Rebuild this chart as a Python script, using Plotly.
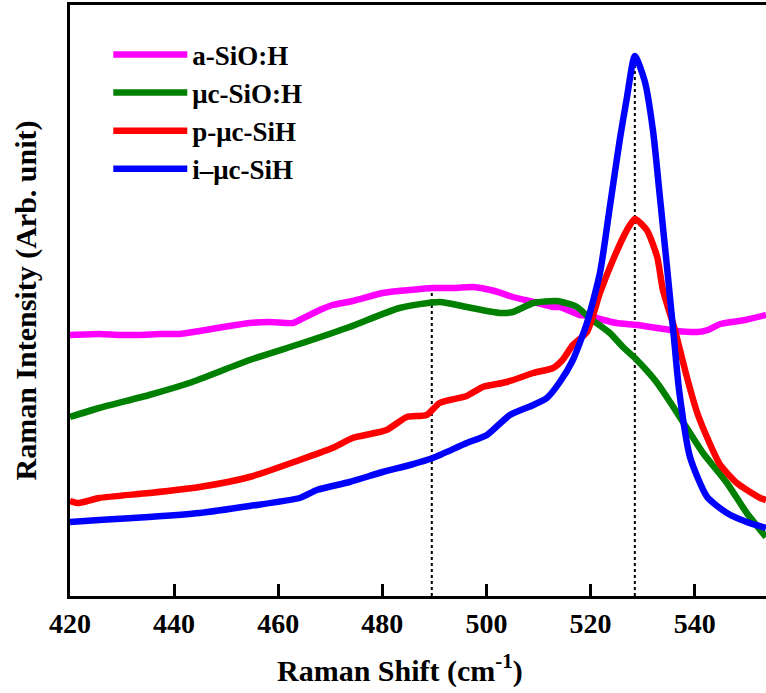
import plotly.graph_objects as go

# Raman shift (cm^-1) and intensities (arb. unit)
x_asioh = [420.0, 425.6, 429.5, 433.3, 437.2, 441.0, 444.9, 450.6, 454.5, 458.3, 462.8,
           464.1, 468.0, 470.4, 474.3, 480.1, 485.3, 489.7, 493.9, 497.4, 501.6, 505.1,
           509.0, 512.8, 514.1, 517.9, 519.8, 522.5, 525.0, 529.0, 532.8, 536.6, 540.5,
           542.5, 544.9, 549.7, 553.7]
y_asioh = [261, 262, 261, 261, 262, 262, 265, 270, 273, 274, 273,
           276, 286, 291, 295, 303, 306, 308, 308, 309, 305, 299,
           294, 289, 289, 281, 280, 276, 273, 271, 268, 265, 264,
           266, 272, 276, 281]

x_ucsioh = [420.0, 425.6, 435.2, 442.9, 454.5, 464.1, 473.7, 483.3, 491.0, 496.2, 502.6,
            505.1, 509.0, 513.5, 517.4, 519.8, 523.7, 526.2, 528.9, 532.8, 535.9, 539.1,
            541.6, 546.2, 550.0, 553.7]
y_ucsioh = [179, 188, 201, 213, 236, 252, 269, 288, 294, 289, 283,
            284, 293, 295, 289, 278, 263, 249, 236, 213, 189, 163,
            143, 113, 83, 59]

x_psih = [420.0, 421.7, 425.6, 435.2, 444.9, 454.5, 464.1, 470.4, 474.3, 480.8, 484.7,
          488.5, 491.0, 496.2, 499.3, 503.9, 509.0, 512.8, 514.6, 516.6, 519.3,
          521.8, 524.3, 527.0, 528.5, 530.8, 532.8, 533.9, 536.2, 538.5, 540.5, 542.6,
          544.8, 548.1, 552.6, 553.7]
y_psih = [95, 93, 98, 103, 109, 119, 136, 148, 158, 166, 179,
          181, 193, 200, 209, 214, 223, 228, 236, 251, 264,
          303, 336, 366, 377, 366, 339, 306, 266, 219, 183, 156,
          132, 113, 98, 96]

x_isih = [420.0, 425.6, 435.2, 444.9, 454.5, 464.1, 467.4, 473.7, 480.1, 485.3, 489.7,
          496.2, 500.1, 504.5, 509.0, 511.6, 514.1, 516.6, 519.3, 521.8,
          523.7, 525.6, 527.0, 528.5, 530.4, 532.0, 533.3, 534.7, 536.0, 537.0, 539.1,
          542.4, 546.2, 550.0, 553.7]
y_isih = [74, 76, 79, 83, 90, 98, 106, 114, 124, 131, 138,
          153, 161, 181, 191, 198, 214, 236, 273, 323,
          389, 456, 499, 540, 515, 465, 400, 328, 259, 206, 139,
          99, 83, 74, 68]

series_names = ["a-SiO:H", "\u03bcc-SiO:H", "p-\u03bcc-SiH", "i\u2013\u03bcc-SiH"]
series_colors = ["#FF00FF", "#008000", "#FF0000", "#0000FF"]

# Peak markers (dotted guide lines)
peak_x = [489.5, 528.5]
peak_top = [308, 540]

xticks = [420, 440, 460, 480, 500, 520, 540]

FONT = "Liberation Serif, Times New Roman, serif"

fig = go.Figure()

for px, pt in zip(peak_x, peak_top):
    fig.add_trace(go.Scatter(x=[px, px], y=[0, pt], mode="lines",
                             line=dict(color="black", width=2, dash="3px,3px"),
                             showlegend=False, hoverinfo="skip"))

data = [(x_asioh, y_asioh), (x_ucsioh, y_ucsioh), (x_psih, y_psih), (x_isih, y_isih)]
for (xs, ys), name, color in zip(data, series_names, series_colors):
    fig.add_trace(go.Scatter(x=xs, y=ys, mode="lines", name=name,
                             line=dict(color=color, width=6.5, shape="spline", smoothing=0.6)))

fig.update_layout(
    width=766, height=693,
    margin=dict(l=70, r=0, t=5, b=97),
    paper_bgcolor="white", plot_bgcolor="white",
    font=dict(family=FONT, size=27, color="black", weight="bold"),
    showlegend=True,
    legend=dict(x=0.055, y=0.957, xanchor="left", yanchor="top",
                bgcolor="rgba(0,0,0,0)", borderwidth=0,
                traceorder="normal", itemwidth=74,
                font=dict(family=FONT, size=27, weight="bold")),
    xaxis=dict(range=[420, 553.7], tickvals=xticks, ticks="inside", ticklen=12,
               tickwidth=2.5, tickcolor="black", showline=True, linewidth=3,
               linecolor="black", mirror=True, showgrid=False, zeroline=False,
               automargin=False,
               tickfont=dict(family=FONT, size=28, weight="bold")),
    yaxis=dict(range=[0, 591], showticklabels=False, ticks="", showline=True,
               linewidth=3, linecolor="black", showgrid=False, zeroline=False,
               automargin=False,
               title=dict(text="Raman Intensity (Arb. unit)", standoff=22,
                          font=dict(family=FONT, size=30, weight="bold"))),
    annotations=[dict(text="Raman Shift (cm<sup>-1</sup>)", xref="paper", yref="paper",
                      x=0.474, y=-0.0255, xanchor="center", yanchor="top",
                      yshift=-36, showarrow=False,
                      font=dict(family=FONT, size=30, weight="bold", color="black"))],
)

fig.write_html("out.html", config={"displayModeBar": False},
               post_script="document.body.style.margin='0';document.body.style.overflow='hidden';")
